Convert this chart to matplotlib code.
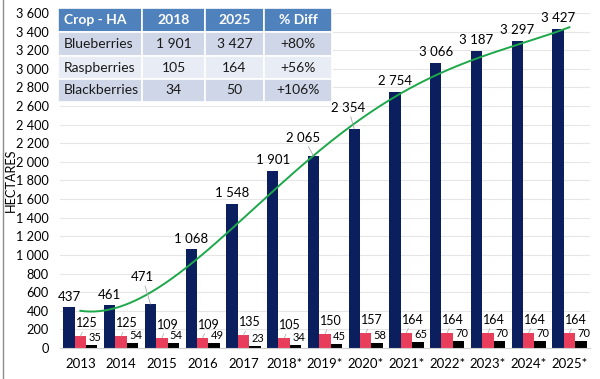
import numpy as np
import matplotlib
matplotlib.use("Agg")
import matplotlib.pyplot as plt

years = ["2013", "2014", "2015", "2016", "2017", "2018*", "2019*", "2020*",
         "2021*", "2022*", "2023*", "2024*", "2025*"]
blueberries = [437, 461, 471, 1068, 1548, 1901, 2065, 2354, 2754, 3066, 3187, 3297, 3427]
raspberries = [125, 125, 109, 109, 135, 105, 150, 157, 164, 164, 164, 164, 164]
blackberries = [35, 54, 54, 49, 23, 34, 45, 58, 65, 70, 70, 70, 70]

table_header = ["Crop - HA", "2018", "2025", "% Diff"]
table_crops = ["Blueberries", "Raspberries", "Blackberries"]
table_2018 = ["1 901", "105", "34"]
table_2025 = ["3 427", "164", "50"]
table_diff = ["+80%", "+56%", "+106%"]

yticks = list(range(0, 3601, 200))

# label offsets (pixels) for blue labels
blue_off = [(0, 4), (0, 4), (-8, 21), (0, 4), (0, 5), (0, 5), (-10, 12),
            (-6, 15), (0, 5), (0, 5), (0, 5), (0, 5), (0, 5)]

plt.rcParams['font.family'] = ['Lato', 'DejaVu Sans']

def fmt(v):
    return f"{v:,}".replace(",", " ")

fig = plt.figure(figsize=(6.0, 3.79), dpi=100)
ax = fig.add_axes([0.10, 0.0818, 0.883, 0.8839])

x = np.arange(len(years))
w = 0.28
c_blue = "#0B1F5E"
c_red = "#E83E5C"
c_blk = "#000000"

ax.bar(x - w, blueberries, w, color=c_blue, zorder=2)
ax.bar(x, raspberries, w, color=c_red, zorder=2)
ax.bar(x + w, blackberries, w, color=c_blk, zorder=2)

# trendline (polynomial order 4)
coef = np.polyfit(x, blueberries, 4)
xs = np.linspace(0, len(years) - 1, 200)
ax.plot(xs, np.polyval(coef, xs), color="#1DA84A", lw=1.4, zorder=4)

ax.set_xlim(-0.5, len(years) - 0.5)
ax.set_ylim(0, 3600)
ax.set_yticks(yticks)
ax.set_yticklabels([fmt(v) for v in yticks], fontsize=9.2)
ax.set_xticks(x)
ax.set_xticklabels(years, fontsize=9.5)
ax.tick_params(length=0)
ax.tick_params(axis='y', pad=8)
ax.tick_params(axis='x', pad=7)
ax.grid(axis='y', color="#E6E6E6", lw=0.8, zorder=0)
for s in ["top", "right", "left"]:
    ax.spines[s].set_visible(False)
ax.spines["bottom"].set_color("#D0D0D0")
ax.set_ylabel("HECTARES", fontsize=9.2, va="center")
ax.yaxis.set_label_coords(-0.093, 0.5)

for i, v in enumerate(blueberries):
    dx, dy = blue_off[i]
    arrow = dict(arrowstyle="-", color="#A6A6A6", lw=0.6, shrinkA=0, shrinkB=0) if abs(dx) > 0 else None
    ax.annotate(fmt(v), xy=(x[i] - w, v), xytext=(dx, dy), textcoords="offset pixels",
                ha="center", va="bottom", fontsize=9.5,
                arrowprops=arrow, zorder=5)

for i, v in enumerate(raspberries):
    ax.annotate(fmt(v), xy=(x[i], v), xytext=(6, 7), textcoords="offset pixels",
                ha="center", va="bottom", fontsize=9,
                arrowprops=dict(arrowstyle="-", color="#A6A6A6", lw=0.5, shrinkA=0, shrinkB=0),
                zorder=5)

for i, v in enumerate(blackberries):
    ax.annotate(fmt(v), xy=(x[i] + w, v), xytext=(3, 2), textcoords="offset pixels",
                ha="center", va="bottom", fontsize=8, zorder=5)

# table
tab_left, tab_top = 58, 8
col_w = [84, 63, 59, 68]
row_h = [24, 24, 23, 23]
rows = [table_header] + [[table_crops[i], table_2018[i], table_2025[i], table_diff[i]] for i in range(3)]
row_colors = ["#4F81BD", "#CFD6E8", "#E8ECF5", "#CFD6E8"]
W, H = 600, 379
y0 = tab_top
for r, row in enumerate(rows):
    xx = tab_left
    for c, txt in enumerate(row):
        rect = plt.Rectangle((xx / W, 1 - (y0 + row_h[r]) / H), col_w[c] / W, row_h[r] / H,
                             transform=fig.transFigure, facecolor=row_colors[r],
                             edgecolor="white", lw=1.2, zorder=10)
        fig.patches.append(rect)
        if c == 0:
            tx, ha = xx + 6, "left"
        else:
            tx, ha = xx + col_w[c] / 2, "center"
        fig.text(tx / W, 1 - (y0 + row_h[r] / 2) / H, txt, ha=ha, va="center",
                 fontsize=10, color="white" if r == 0 else "#1A1A1A",
                 fontweight="bold" if r == 0 else "normal", zorder=11)
        xx += col_w[c]
    y0 += row_h[r]

# left frame line
fig.add_artist(plt.Line2D([3 / W, 3 / W], [0, 1], transform=fig.transFigure, color="#8C8C8C", lw=1))

fig.savefig("out.png", dpi=100)
